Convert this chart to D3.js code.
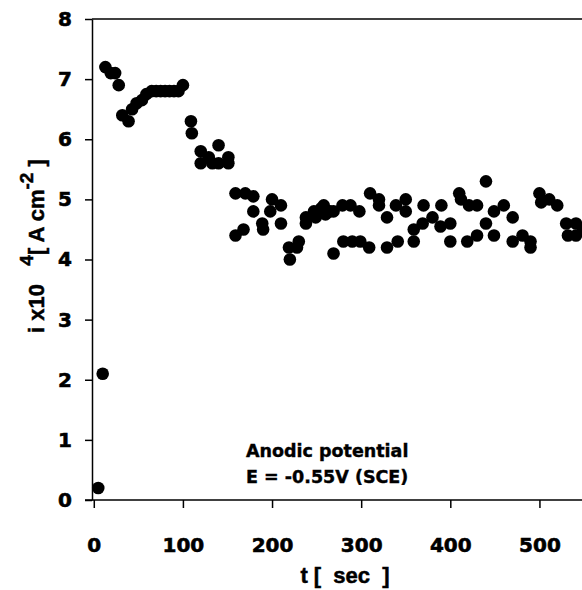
<!DOCTYPE html>
<html>
<head>
<meta charset="utf-8">
<script src="https://cdn.jsdelivr.net/npm/d3@7"></script>
<style>
  body { margin: 0; background: #fff; }
  svg { display: block; }
  .tick text { font-family: "DejaVu Sans", sans-serif; font-weight: bold; font-size: 20px; fill: #000; stroke: #000; stroke-width: 0.6px; }
  .domain, .tick line { stroke: #000; stroke-width: 1.5px; }
  .title { font-family: "Liberation Sans", Arial, sans-serif; font-weight: bold; fill: #000; stroke: #000; stroke-width: 0.5px; white-space: pre; }
  .note { font-family: "DejaVu Sans", sans-serif; font-weight: bold; font-size: 17.5px; fill: #000; stroke: #000; stroke-width: 0.4px; }
</style>
</head>
<body>
<script>
// time (s) and current density (x1e-4 A cm^-2)
const tSec = [5, 10, 13, 19, 24, 28, 32, 39, 43, 48, 54, 59, 65, 70, 75, 80, 85, 90, 95, 100,
  109, 110, 120, 120, 129, 133, 140, 140, 151, 151,
  159, 159, 168, 170, 179, 179, 189, 190, 198, 200, 210, 210, 219, 220, 230, 228,
  238, 238, 247, 249, 255, 258, 260, 265, 269, 269, 279, 280, 288, 290, 298, 299,
  310, 309, 320, 320, 329, 329, 339, 341, 350, 350, 359, 359, 369, 370, 380, 389, 390,
  400, 400, 410, 412, 419, 421, 430, 430, 440, 440, 449, 449, 460, 470, 470, 481, 490, 490,
  500, 502, 511, 520, 530, 532, 541, 541, 549];
const iCurrent = [0.2, 2.1, 7.2, 7.1, 7.1, 6.9, 6.4, 6.3, 6.5, 6.6, 6.65, 6.75, 6.8, 6.8, 6.8, 6.8, 6.8, 6.8, 6.8, 6.9,
  6.3, 6.1, 5.8, 5.6, 5.7, 5.6, 5.9, 5.6, 5.7, 5.6,
  5.1, 4.4, 4.5, 5.1, 5.05, 4.8, 4.6, 4.5, 4.8, 5.0, 4.9, 4.6, 4.2, 4.0, 4.3, 4.2,
  4.7, 4.6, 4.8, 4.7, 4.85, 4.9, 4.75, 4.8, 4.8, 4.1, 4.9, 4.3, 4.9, 4.3, 4.8, 4.3,
  5.1, 4.2, 5.0, 4.9, 4.7, 4.2, 4.9, 4.3, 5.0, 4.8, 4.5, 4.3, 4.6, 4.9, 4.7, 4.55, 4.9,
  4.6, 4.3, 5.1, 5.0, 4.3, 4.9, 4.9, 4.4, 5.3, 4.6, 4.8, 4.4, 4.9, 4.7, 4.3, 4.4, 4.3, 4.2,
  5.1, 4.95, 5.0, 4.9, 4.6, 4.4, 4.6, 4.4, 4.5];
const xTicks = [0, 100, 200, 300, 400, 500];
const yTicks = [0, 1, 2, 3, 4, 5, 6, 7, 8];
const noteLines = ["Anodic potential", "E = -0.55V (SCE)"];

const width = 582, height = 590;
const svg = d3.select('body').append('svg')
  .attr('width', width)
  .attr('height', height);

const x = d3.scaleLinear().domain([-2, 550]).range([92, 584]);
const y = d3.scaleLinear().domain([0, 8]).range([500, 19]);

// top frame line
svg.append('line')
  .attr('x1', x(-2)).attr('x2', width + 5)
  .attr('y1', y(8)).attr('y2', y(8))
  .attr('stroke', '#000').attr('stroke-width', 1.5);

svg.append('g')
  .attr('transform', `translate(0,${y(0)})`)
  .call(d3.axisBottom(x).tickValues(xTicks).tickSize(8).tickPadding(30).tickSizeOuter(0))
  .call(g => g.select('.domain').attr('d', `M85,0H${width + 5}`));

svg.append('g')
  .attr('transform', `translate(${x(-2)},0)`)
  .call(d3.axisLeft(y).tickValues(yTicks).tickSize(7).tickPadding(13).tickSizeOuter(0));

svg.append('g')
  .selectAll('circle')
  .data(tSec.map((t, k) => [t, iCurrent[k]]))
  .join('circle')
  .attr('cx', d => x(d[0]))
  .attr('cy', d => y(d[1]))
  .attr('r', 6.3)
  .attr('fill', '#000');

// annotation
svg.append('g')
  .selectAll('text')
  .data(noteLines)
  .join('text')
  .attr('class', 'note')
  .attr('x', 246)
  .attr('y', (d, k) => 457 + k * 26)
  .text(d => d);

// axis titles
svg.append('text')
  .attr('class', 'title')
  .attr('x', 345).attr('y', 583)
  .attr('text-anchor', 'middle')
  .style('font-size', '22px')
  .text('t [  sec  ]');

const yt = svg.append('text')
  .attr('class', 'title')
  .attr('transform', 'translate(44,246) rotate(-90)')
  .attr('text-anchor', 'middle')
  .style('font-size', '22px');
yt.append('tspan').text('i x10   ');
yt.append('tspan').attr('dy', -11).style('font-size', '19px').text('4');
yt.append('tspan').attr('dy', 11).text('[ A cm');
yt.append('tspan').attr('dy', -11).style('font-size', '19px').text('-2');
yt.append('tspan').attr('dy', 11).text(' ]');
</script>
</body>
</html>
